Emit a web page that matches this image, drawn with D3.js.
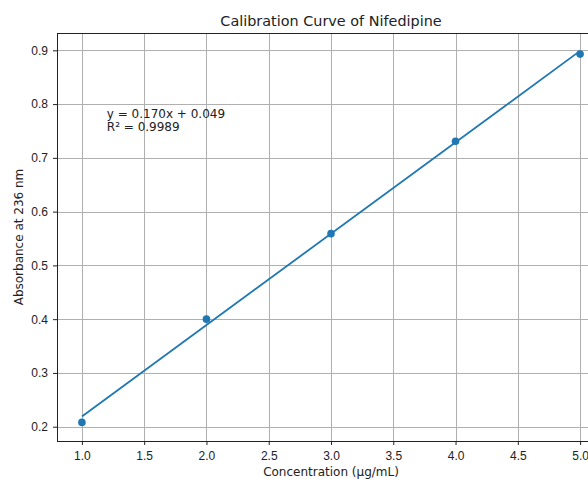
<!DOCTYPE html>
<html>
<head>
<meta charset="utf-8">
<script src="https://cdn.jsdelivr.net/npm/d3@7"></script>
<style>
  body { margin: 0; background: #fff; }
  svg { display: block; font-family: "DejaVu Sans", sans-serif; }
  .tick text { fill: #222; font-size: 12px; }
</style>
</head>
<body>
<svg class="chart"></svg>
<script>
// measured standards
var concentration = [1.0, 2.0, 3.0, 4.0, 5.0];
var absorbance = [0.208, 0.400, 0.559, 0.731, 0.893];

// fitted line end points (y = 0.170x + 0.049)
var fitX = [1.0, 5.0];
var fitY = [0.219, 0.899];

var xTicks = [1.0, 1.5, 2.0, 2.5, 3.0, 3.5, 4.0, 4.5, 5.0];
var yTicks = [0.2, 0.3, 0.4, 0.5, 0.6, 0.7, 0.8, 0.9];

var equationLines = ['y = 0.170x + 0.049', 'R\u00b2 = 0.9989'];

function show() {
    'use strict';

    var W = 588, H = 479;
    // the axes run past the right edge of the picture
    var margin = { top: 33, left: 57 },
        width = 548,
        height = 408;

    var svg = d3.select('.chart')
        .attr('width', W)
        .attr('height', H);

    var chart = svg.append('g')
        .attr('transform', 'translate(' + margin.left + ',' + margin.top + ')');

    var x = d3.scaleLinear().domain([0.8, 5.2]).range([0, width]);
    var y = d3.scaleLinear().domain([0.1734, 0.9322]).range([height, 0]);

    // grid
    chart.append('g').selectAll('line').data(xTicks).enter().append('line')
        .attr('x1', function (d) { return Math.round(x(d)) + 0.5; })
        .attr('x2', function (d) { return Math.round(x(d)) + 0.5; })
        .attr('y1', 0).attr('y2', height)
        .attr('stroke', '#b0b0b0').attr('stroke-width', 1);

    chart.append('g').selectAll('line').data(yTicks).enter().append('line')
        .attr('y1', function (d) { return Math.round(y(d)) + 0.5; })
        .attr('y2', function (d) { return Math.round(y(d)) + 0.5; })
        .attr('x1', 0).attr('x2', width)
        .attr('stroke', '#b0b0b0').attr('stroke-width', 1);

    // fit line
    var line = d3.line()
        .x(function (d) { return x(d[0]); })
        .y(function (d) { return y(d[1]); });

    chart.append('path')
        .datum(d3.zip(fitX, fitY))
        .attr('d', line)
        .attr('fill', 'none')
        .attr('stroke', '#1f77b4')
        .attr('stroke-width', 1.8);

    // points
    chart.append('g').selectAll('circle').data(d3.zip(concentration, absorbance))
        .enter().append('circle')
        .attr('cx', function (d) { return x(d[0]); })
        .attr('cy', function (d) { return y(d[1]); })
        .attr('r', 3.8)
        .attr('fill', '#1f77b4');

    // axes
    var bottomAxis = d3.axisBottom(x).tickValues(xTicks)
        .tickFormat(d3.format('.1f')).tickSize(4).tickPadding(5);
    var leftAxis = d3.axisLeft(y).tickValues(yTicks)
        .tickFormat(d3.format('.1f')).tickSize(4).tickPadding(5);

    var gx = chart.append('g')
        .attr('transform', 'translate(0,' + height + ')')
        .call(bottomAxis);
    gx.select('.domain').remove();
    gx.selectAll('.tick line').attr('stroke', '#222');
    gx.selectAll('.tick text').attr('dy', null).attr('y', 19);

    var gy = chart.append('g').call(leftAxis);
    gy.select('.domain').remove();
    gy.selectAll('.tick line').attr('stroke', '#222');

    // spines
    chart.append('rect')
        .attr('x', 0.5).attr('y', 0.5)
        .attr('width', width).attr('height', height)
        .attr('fill', 'none')
        .attr('stroke', '#222')
        .attr('stroke-width', 1);

    // equation
    var eq = chart.append('text')
        .attr('x', x(1.2))
        .attr('y', y(0.75) - 13)
        .attr('font-size', 12)
        .attr('fill', '#222');
    eq.selectAll('tspan').data(equationLines).enter().append('tspan')
        .attr('x', x(1.2))
        .attr('dy', function (d, i) { return i === 0 ? 0 : 13; })
        .text(function (d) { return d; });

    // labels
    svg.append('text')
        .attr('x', margin.left + width / 2)
        .attr('y', 26)
        .attr('text-anchor', 'middle')
        .attr('font-size', 14.4)
        .attr('fill', '#222')
        .text('Calibration Curve of Nifedipine');

    svg.append('text')
        .attr('x', margin.left + width / 2)
        .attr('y', 476)
        .attr('text-anchor', 'middle')
        .attr('font-size', 12)
        .attr('fill', '#222')
        .text('Concentration (\u00b5g/mL)');

    svg.append('text')
        .attr('transform', 'translate(23,' + (margin.top + height / 2) + ') rotate(-90)')
        .attr('text-anchor', 'middle')
        .attr('font-size', 12)
        .attr('fill', '#222')
        .text('Absorbance at 236 nm');
}

show();
</script>
</body>
</html>
